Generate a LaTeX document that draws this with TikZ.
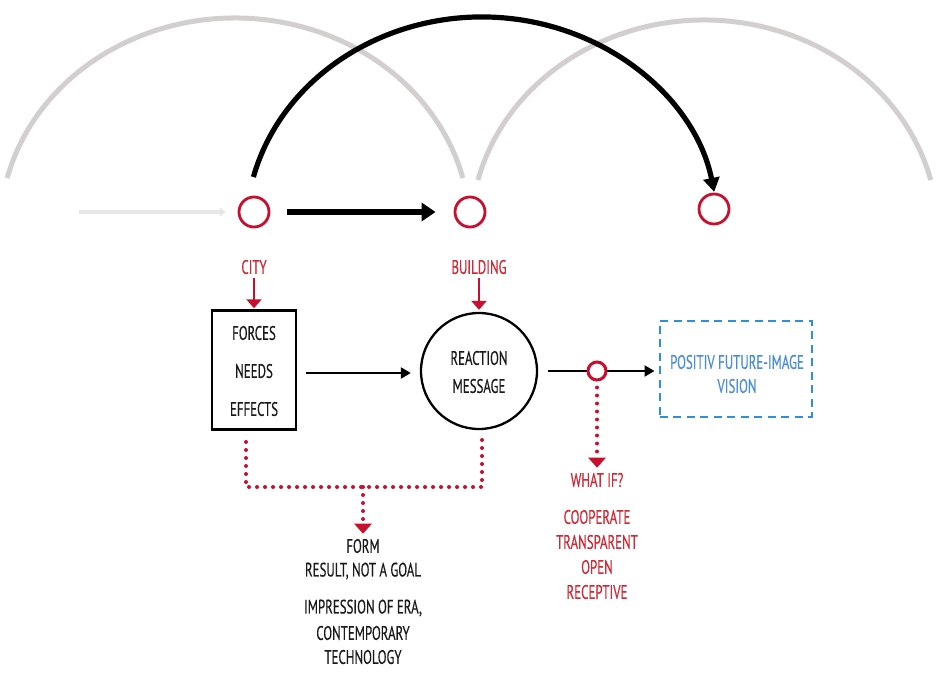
\documentclass[tikz,border=0pt]{standalone}
\usepackage{fontspec}
\setmainfont{PT Sans}[FakeStretch=0.66, FakeBold=0.4]
\usetikzlibrary{arrows.meta}
\definecolor{myred}{HTML}{C8102E}
\definecolor{txtred}{HTML}{CF2A35}
\definecolor{arcgray}{HTML}{D3CFCF}
\definecolor{linegray}{HTML}{E6E6E6}
\definecolor{myblue}{HTML}{2F8FD8}
\definecolor{txtblue}{HTML}{4A8ED6}
\definecolor{txtblack}{HTML}{1A1A1A}
\tikzset{
  ring/.style={circle, draw=myred, line width=2.8pt, minimum size=30pt, inner sep=0pt},
  smallring/.style={circle, draw=myred, fill=white, line width=3pt, minimum size=18pt, inner sep=0pt},
  grayarc/.style={draw=arcgray, line width=5pt},
  blackarc/.style={draw=black, line width=5.2pt, -{Triangle[length=14pt,width=16pt]}},
  bigarrow/.style={draw=black, line width=5.5pt, -{Triangle[length=14pt,width=18pt]}},
  grayarrow/.style={draw=linegray, line width=4pt, -{Triangle[length=6pt,width=9pt]}},
  thinarrow/.style={draw=black, line width=2.2pt, -{Triangle[length=10pt,width=11pt]}},
  redarrow/.style={draw=myred, line width=2.6pt, -{Triangle[length=9pt,width=15pt]}},
  reddot/.style={draw=myred, line width=4pt, line cap=round, dash pattern=on 0pt off 8pt},
  reddotarrow/.style={reddot, -{Triangle[length=10pt,width=17pt]}},
  lbl/.style={font=\fontsize{19.5}{22}\selectfont, text=txtblack, inner sep=0pt},
  rlbl/.style={lbl, text=txtred},
  blbl/.style={lbl, text=txtblue},
}
\begin{document}
\begin{tikzpicture}[x=1pt,y=1pt]
\useasboundingbox[fill=white] (0,0) rectangle (937,-675);

% gray arcs
\draw[grayarc] (7.2,-178) arc[start angle=165.8, end angle=14.2, x radius=235, y radius=212];
\draw[grayarc] (478,-180) arc[start angle=165.8, end angle=14.2, x radius=233.5, y radius=212];

% rings
\node[ring] (c1) at (254,-212) {};
\node[ring] (c2) at (470,-212) {};
\node[ring] (c3) at (714,-209) {};

% black arc
\coordinate (bs) at (253.4,-177);
\draw[blackarc] (bs) arc[start angle=165.6, end angle=10.3, x radius=236, y radius=213];

% horizontal arrows
\coordinate (gs) at (79,-212);
\draw[grayarrow, shorten >=12pt] (gs) -- (c1.west);
\draw[bigarrow, shorten <=17pt, shorten >=18pt] (c1.east) -- (c2.west);

% labels CITY / BUILDING
\node[rlbl] (city) at (254,-267) {CITY};
\node[rlbl] (bldg) at (479,-267) {BUILDING};

% box
\node[draw=black, line width=2.5pt, minimum width=84pt, minimum height=119pt, inner sep=0pt] (box) at (254,-370) {};
\node[lbl] (t1) at (254,-333) {FORCES};
\node[lbl] (t2) at (254,-371) {NEEDS};
\node[lbl] (t3) at (254,-409) {EFFECTS};

% circle
\node[circle, draw=black, line width=2.3pt, minimum size=116pt, inner sep=0pt] (rc) at (479,-371) {};
\node[lbl] (t4) at (479,-358) {REACTION};
\node[lbl] (t5) at (479,-386) {MESSAGE};

\draw[redarrow, shorten <=4pt, shorten >=1pt] (city.south) -- (box.north);
\draw[redarrow, shorten <=4pt, shorten >=2pt] (bldg.south) -- (rc.north);

\draw[thinarrow, shorten <=9pt, shorten >=9pt] (box.east |- 0,-373) -- (rc.west |- 0,-373);

% vision box
\node[draw=myblue, line width=2pt, dash pattern=on 8pt off 5.5pt, minimum width=152pt, minimum height=96pt, inner sep=0pt] (vis) at (735.5,-368.5) {};
\node[blbl] (t6) at (737,-362) {POSITIV FUTURE-IMAGE};
\node[blbl] (t7) at (737,-386) {VISION};

\coordinate (ae) at (548,-371);
\draw[thinarrow, shorten >=4pt] (ae) -- (vis.west |- ae);
\node[smallring] (sr) at (597,-371) {};

% red dotted to WHAT IF
\node[rlbl] (whatif) at (597,-480) {WHAT IF?};
\draw[reddotarrow, shorten <=6pt, shorten >=5pt] (sr.south) -- (whatif.north);
\node[rlbl] (w1) at (597,-517) {COOPERATE};
\node[rlbl] (w2) at (597,-542) {TRANSPARENT};
\node[rlbl] (w3) at (597,-567) {OPEN};
\node[rlbl] (w4) at (597,-592) {RECEPTIVE};

% red dotted bracket
\coordinate (d1) at (246,-442);
\coordinate (d2) at (246,-487);
\coordinate (d3) at (482,-487);
\coordinate (d4) at (482,-440);
\coordinate (dm) at (363,-487);
\draw[reddot] (d1) -- (d2) -- (d3) -- (d4);
\node[lbl] (form) at (363,-546) {FORM};
\draw[reddotarrow, shorten >=5pt] (dm) -- (form.north);
\node[lbl] (f1) at (363,-571) {RESULT, NOT A GOAL};
\node[lbl] (f2) at (363,-608) {IMPRESSION OF ERA,};
\node[lbl] (f3) at (363,-633) {CONTEMPORARY};
\node[lbl] (f4) at (363,-657) {TECHNOLOGY};
\end{tikzpicture}
\end{document}
